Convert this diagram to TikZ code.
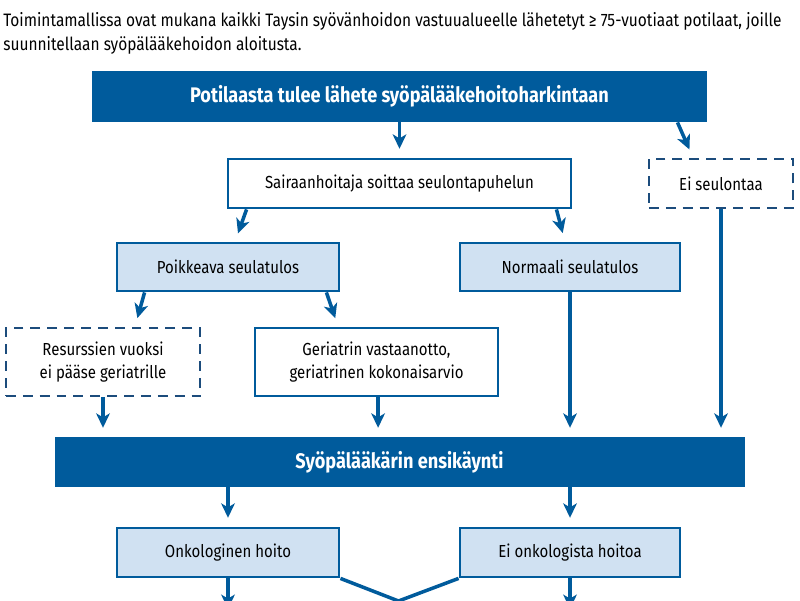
\documentclass[tikz,border=0pt]{standalone}
\usepackage{fontspec}
\setmainfont{Fira Sans}[FakeStretch=0.86]
\usetikzlibrary{arrows.meta}

\definecolor{tysblue}{RGB}{0,91,156}
\definecolor{tyslight}{RGB}{208,225,242}
\definecolor{tysdash}{RGB}{28,76,124}

\tikzset{
	stepbase/.style={draw=tysblue, line width=2pt, align=center, inner sep=2pt,
		font=\fontsize{12.4}{16}\selectfont},
	headbox/.style={stepbase, fill=tysblue, text=white, minimum height=1.2cm,
		font=\fontsize{15}{17}\selectfont\bfseries},
	whitebox/.style={stepbase, fill=white, minimum height=1.225cm},
	lightbox/.style={stepbase, fill=tyslight, minimum height=1.2cm},
	dashbox/.style={stepbase, draw=tysdash, dash pattern=on 7pt off 5pt, minimum height=1.225cm},
	arr/.style={draw=tysblue, line width=2.5pt, shorten >=0.22cm,
		-{Stealth[length=0.36cm, width=0.34cm, inset=0.1cm]}},
	plain/.style={draw=tysblue, line width=2.5pt}
}

\begin{document}
\begin{tikzpicture}[x=0.025cm, y=-0.025cm]
	\clip (0,0) rectangle (800,600);
	\fill[white] (0,0) rectangle (800,600);

	% intro text
	\node[anchor=north west, align=left, inner sep=0pt,
		font=\fontsize{12.8}{17}\selectfont] (intro) at (3,12)
		{Toimintamallissa ovat mukana kaikki Taysin syövänhoidon vastuualueelle lähetetyt ≥ 75-vuotiaat potilaat, joille\\
		suunnitellaan syöpälääkehoidon aloitusta.};

	% boxes
	\node[headbox, minimum width=15.325cm, minimum height=1.225cm] (lahete) at (399.5,96.5) {Potilaasta tulee lähete syöpälääkehoitoharkintaan};
	\node[whitebox, minimum width=8.575cm] (soitto) at (399.5,183.5) {Sairaanhoitaja soittaa seulontapuhelun};
	\node[dashbox, minimum width=3.6cm] (eiseul) at (721,183.5) {Ei seulontaa};
	\node[lightbox, minimum width=5.55cm] (poikk) at (228,267) {Poikkeava seulatulos};
	\node[lightbox, minimum width=5.5cm] (norm) at (570,267) {Normaali seulatulos};
	\node[dashbox, minimum width=4.85cm, minimum height=1.7cm] (resurssi) at (103,362) {Resurssien vuoksi\\ei pääse geriatrille};
	\node[whitebox, minimum width=6.075cm, minimum height=1.7cm] (geri) at (376.5,362) {Geriatrin vastaanotto,\\geriatrinen kokonaisarvio};
	\node[headbox, minimum width=17.175cm] (ensik) at (399.5,462) {Syöpälääkärin ensikäynti};
	\node[lightbox, minimum width=5.55cm, minimum height=1.225cm] (onko) at (228,552.5) {Onkologinen hoito};
	\node[lightbox, minimum width=5.5cm, minimum height=1.225cm] (eionko) at (570,552.5) {Ei onkologista hoitoa};

	% connectors
	\draw[arr] (lahete.south) -- (soitto.north);
	\draw[arr] ([xshift=-0.75cm]lahete.south east) -- ([xshift=-0.7cm]eiseul.north);
	\draw[arr] ([xshift=0.5cm]soitto.south west) -- ([xshift=0.175cm]poikk.north);
	\draw[arr] ([xshift=-0.4cm]soitto.south east) -- ([xshift=-0.125cm]norm.north);
	\draw[arr] ([xshift=0.725cm]poikk.south west) -- ([xshift=0.8cm]resurssi.north);
	\draw[arr] ([xshift=-0.35cm]poikk.south east) -- ([xshift=-0.96cm]geri.north);
	\draw[arr] (resurssi.south) -- (resurssi.south |- ensik.north);
	\draw[arr] ([xshift=0.04cm]geri.south) -- ([xshift=0.04cm]geri.south |- ensik.north);
	\draw[arr] (norm.south) -- (norm.south |- ensik.north);
	\draw[arr] (eiseul.south) -- (eiseul.south |- ensik.north);
	\draw[arr] (onko.north |- ensik.south) -- (onko.north);
	\draw[arr] (eionko.north |- ensik.south) -- (eionko.north);

	% bottom, continues below the page
	\coordinate (onkoend) at (228,609);
	\coordinate (eionkoend) at (570,609);
	\coordinate (yhdys) at (398.5,601);
	\draw[arr, shorten >=0pt] (onko.south) -- (onkoend);
	\draw[arr, shorten >=0pt] (eionko.south) -- (eionkoend);
	\draw[plain] (onko.south east) -- (yhdys) -- (eionko.south west);
\end{tikzpicture}
\end{document}
